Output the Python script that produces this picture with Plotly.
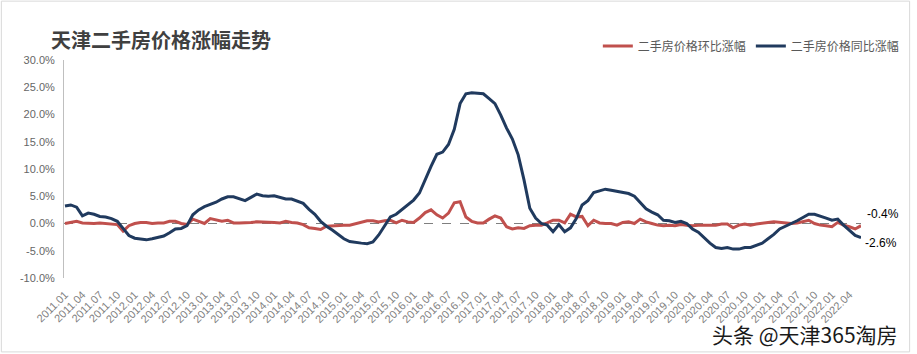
import plotly.graph_objects as go

months = [f"{y}.{m:02d}" for y in range(2011, 2023) for m in range(1, 13)][:138]

hb = [0.0, 0.2, 0.4, 0.1, 0.0, 0.0, 0.1, 0.0, 0.0, -0.2,
      -1.4, -0.4, 0.0, 0.2, 0.2, 0.0, 0.1, 0.1, 0.4, 0.4,
      0.0, -0.2, 0.8, 0.4, 0.0, 0.9, 0.6, 0.4, 0.6, 0.1,
      0.1, 0.1, 0.2, 0.3, 0.3, 0.2, 0.2, 0.1, 0.4, 0.2,
      0.1, -0.2, -0.8, -0.9, -1.1, -0.5, -0.4, -0.3, -0.3, -0.3,
      0.0, 0.3, 0.5, 0.5, 0.3, 0.5, 0.6, 0.1, 0.6, 0.3,
      0.2, 1.0, 2.0, 2.5, 1.6, 1.0, 1.9, 3.8, 4.0, 1.2,
      0.4, 0.1, 0.1, 0.8, 1.4, 1.0, -0.6, -1.0, -0.8, -0.9,
      -0.4, -0.3, -0.3, 0.1, 0.6, 0.6, 0.1, 1.7, 1.2, 1.3,
      -0.4, 0.6, 0.1, 0.0, 0.0, -0.3, 0.2, 0.3, 0.0, 0.8,
      0.3, 0.0, -0.3, -0.4, -0.3, -0.4, -0.2, -0.3, -0.4, -0.3,
      -0.3, -0.4, -0.3, -0.1, -0.1, -0.8, -0.3, -0.1, -0.3, -0.1,
      0.1, 0.2, 0.3, 0.2, 0.1, 0.0, 0.1, 0.3, 0.6, 0.0,
      -0.3, -0.4, -0.6, 0.2, -0.3, -0.6, -1.0, -0.4]

tb = [3.2, 3.4, 3.0, 1.4, 1.9, 1.7, 1.3, 1.2, 0.9, 0.4,
      -0.9, -2.2, -2.7, -2.9, -3.0, -2.8, -2.6, -2.3, -1.7, -1.0,
      -0.9, -0.4, 1.6, 2.5, 3.1, 3.5, 3.9, 4.5, 4.9, 4.9,
      4.5, 4.2, 4.8, 5.4, 5.1, 5.0, 5.1, 4.8, 4.5, 4.5,
      4.1, 3.7, 2.6, 1.7, 0.4, -0.5, -1.2, -2.0, -2.8, -3.3,
      -3.5, -3.6, -3.7, -3.4, -2.1, -0.4, 1.2, 1.7, 2.6, 3.5,
      4.3, 5.6, 8.2, 10.5, 12.7, 13.1, 14.5, 17.3, 22.0, 23.8,
      24.0, 23.9, 23.8, 22.9, 22.0, 19.9, 17.5, 15.5, 12.6, 8.0,
      2.8, 1.0, 0.0, -0.3, -1.5, -0.2, -1.5, -0.8, 0.9, 3.4,
      4.2, 5.7, 6.0, 6.3, 6.1, 5.9, 5.6, 5.5, 5.0, 3.8,
      2.7, 2.1, 1.6, 0.6, 0.5, 0.2, 0.4, 0.0, -1.0, -1.6,
      -2.6, -3.6, -4.4, -4.6, -4.4, -4.7, -4.7, -4.4, -4.4, -4.0,
      -3.6, -2.8, -2.0, -1.0, -0.5, -0.1, 0.5, 1.1, 1.7, 1.7,
      1.4, 1.0, 0.6, 0.8, -0.3, -1.2, -2.2, -2.6]

yticks = [-10, -5, 0, 5, 10, 15, 20, 25, 30]
ytick_text = [f"{v:.1f}%" for v in yticks]

xs = list(range(len(months)))
tick_idx = xs[::3]
tick_txt = [months[i] for i in tick_idx]

FONT = "Liberation Sans, Arial, Noto Sans CJK SC, sans-serif"
CJK = "Noto Sans CJK SC, Liberation Sans, sans-serif"

fig = go.Figure()
fig.add_trace(go.Scatter(x=xs, y=hb, mode="lines", name="二手房价格环比涨幅",
                         line=dict(color="#C0504D", width=3)))
fig.add_trace(go.Scatter(x=xs, y=tb, mode="lines", name="二手房价格同比涨幅",
                         line=dict(color="#203A5E", width=3)))

fig.add_hline(y=0, line=dict(color="#7f7f7f", width=1, dash="dash"), layer="below")

fig.add_annotation(x=xs[-1], y=hb[-1], text=f"{hb[-1]:.1f}%", showarrow=False,
                   xanchor="left", yanchor="middle", xshift=4, yshift=12,
                   font=dict(family=FONT, size=12, color="#000000"))
fig.add_annotation(x=xs[-1], y=tb[-1], text=f"{tb[-1]:.1f}%", showarrow=False,
                   xanchor="left", yanchor="middle", xshift=2, yshift=-5,
                   font=dict(family=FONT, size=12, color="#000000"))

fig.add_annotation(xref="paper", yref="paper", x=-0.019, y=1.092, text="<b>天津二手房价格涨幅走势</b>",
                   showarrow=False, xanchor="left", yanchor="middle",
                   font=dict(family=CJK, size=20, color="#404040"))

fig.add_annotation(xref="paper", yref="paper", x=1.049, y=-0.257, text="头条 @天津365淘房",
                   showarrow=False, xanchor="right", yanchor="middle",
                   font=dict(family=CJK, size=21, color="#1a1a1a"))

fig.add_shape(type="rect", xref="paper", yref="paper", x0=-0.0786, x1=1.061, y0=-0.339, y1=1.27,
              line=dict(color="#d9d9d9", width=1), layer="below")

fig.update_layout(
    width=917, height=354,
    margin=dict(l=64, r=51, t=60, b=76),
    paper_bgcolor="white", plot_bgcolor="white",
    showlegend=True,
    legend=dict(orientation="h", x=1.055, xanchor="right", y=1.064, yanchor="middle",
                font=dict(family=CJK, size=12, color="#595959"),
                itemwidth=30, bgcolor="rgba(0,0,0,0)"),
    xaxis=dict(range=[-0.17, 137], tickmode="array", tickvals=tick_idx, ticktext=tick_txt,
               tickangle=-45, showgrid=False, zeroline=False, showline=False,
               ticks="outside", ticklen=5, tickcolor="rgba(0,0,0,0)",
               tickfont=dict(family=FONT, size=11, color="#7f7f7f")),
    yaxis=dict(range=[-10, 30], tickmode="array", tickvals=yticks, ticktext=ytick_text,
               showgrid=False, zeroline=False, showline=True, linecolor="#bfbfbf", linewidth=1,
               ticks="", ticklen=0, ticklabelstandoff=6,
               tickfont=dict(family=FONT, size=11, color="#666666")),
)

fig.write_html("out.html")
